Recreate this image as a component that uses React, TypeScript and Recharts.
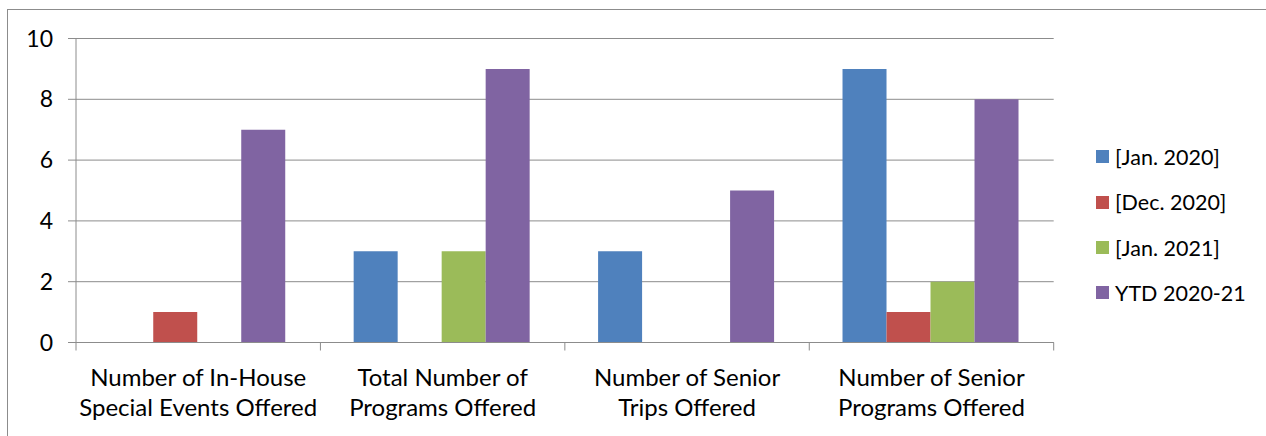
import { BarChart, Bar, XAxis, YAxis, CartesianGrid, Legend } from "recharts"

const categoryLines = [
  ["Number of In-House", "Special Events Offered"],
  ["Total Number of", "Programs Offered"],
  ["Number of Senior", "Trips Offered"],
  ["Number of Senior", "Programs Offered"],
]
const categories = categoryLines.map((l) => l.join(" "))

const jan2020 = [0, 3, 3, 9]
const dec2020 = [1, 0, 0, 1]
const jan2021 = [0, 3, 0, 2]
const ytd2021 = [7, 9, 5, 8]

const yTicks = [0, 2, 4, 6, 8, 10]

const series = [
  { key: "jan2020", name: "[Jan. 2020]", color: "#4F81BD", values: jan2020 },
  { key: "dec2020", name: "[Dec. 2020]", color: "#C0504D", values: dec2020 },
  { key: "jan2021", name: "[Jan. 2021]", color: "#9BBB59", values: jan2021 },
  { key: "ytd", name: "YTD 2020-21", color: "#8064A2", values: ytd2021 },
]

const data = categories.map((name, i) => {
  const row: Record<string, string | number> = { name }
  series.forEach((s) => (row[s.key] = s.values[i]))
  return row
})

const FONT = "Lato, 'Open Sans', sans-serif"
const GRAY = "#8c8c8c"

// category labels on two lines, plus the short tick marks between categories
function CategoryTick(props: any) {
  const { x, y, index, width } = props
  const band = (width ?? 977.7) / categories.length
  const lines = categoryLines[index] ?? [props.payload.value]
  const edges = index === categories.length - 1 ? [x - band / 2, x + band / 2] : [x - band / 2]
  return (
    <g>
      {edges.map((ex, i) => (
        <line key={"t" + i} x1={ex} x2={ex} y1={y} y2={y + 8} stroke={GRAY} />
      ))}
      {lines.map((line, i) => (
        <text
          key={i}
          x={x}
          y={y + 43 + i * 30}
          textAnchor="middle"
          fontSize={24}
          fontFamily={FONT}
          fill="#000"
        >
          {line}
        </text>
      ))}
    </g>
  )
}

function LegendBox() {
  return (
    <div style={{ fontFamily: FONT, fontSize: 21.5, color: "#000" }}>
      {series.map((s) => (
        <div
          key={s.key}
          style={{ height: 45.3, display: "flex", alignItems: "center", whiteSpace: "nowrap" }}
        >
          <span
            style={{ width: 13, height: 13, background: s.color, display: "inline-block", marginRight: 6 }}
          />
          <span>{s.name}</span>
        </div>
      ))}
    </div>
  )
}

export default function App() {
  return (
    <div
      style={{
        position: "absolute",
        left: 7,
        top: 9,
        width: 1258,
        height: 426,
        borderTop: `1px solid ${GRAY}`,
        borderLeft: `1px solid ${GRAY}`,
        background: "#fff",
      }}
    >
      <BarChart
        width={1258}
        height={426}
        data={data}
        margin={{ top: 28.5, right: 212.3, left: 8, bottom: 13.5 }}
        barCategoryGap="13.6%"
        barGap={0}
      >
        <CartesianGrid vertical={false} stroke={GRAY} strokeWidth={1} />
        <XAxis
          dataKey="name"
          height={80}
          axisLine={{ stroke: GRAY }}
          tickLine={false}
          tickSize={0}
          tickMargin={0}
          interval={0}
          tick={<CategoryTick />}
        />
        <YAxis
          domain={[0, 10]}
          ticks={yTicks}
          interval={0}
          width={60}
          tickSize={8}
          tickMargin={15}
          axisLine={{ stroke: GRAY }}
          tickLine={{ stroke: GRAY }}
          tick={{ fontSize: 23, fontFamily: FONT, fill: "#000" }}
        />
        <Legend
          layout="horizontal"
          align="center"
          verticalAlign="middle"
          content={<LegendBox />}
          wrapperStyle={{ left: 1088, top: 124.3, width: 170 }}
        />
        {series.map((s) => (
          <Bar
            key={s.key}
            dataKey={s.key}
            name={s.name}
            fill={s.color}
            isAnimationActive={false}
          />
        ))}
      </BarChart>
    </div>
  )
}
